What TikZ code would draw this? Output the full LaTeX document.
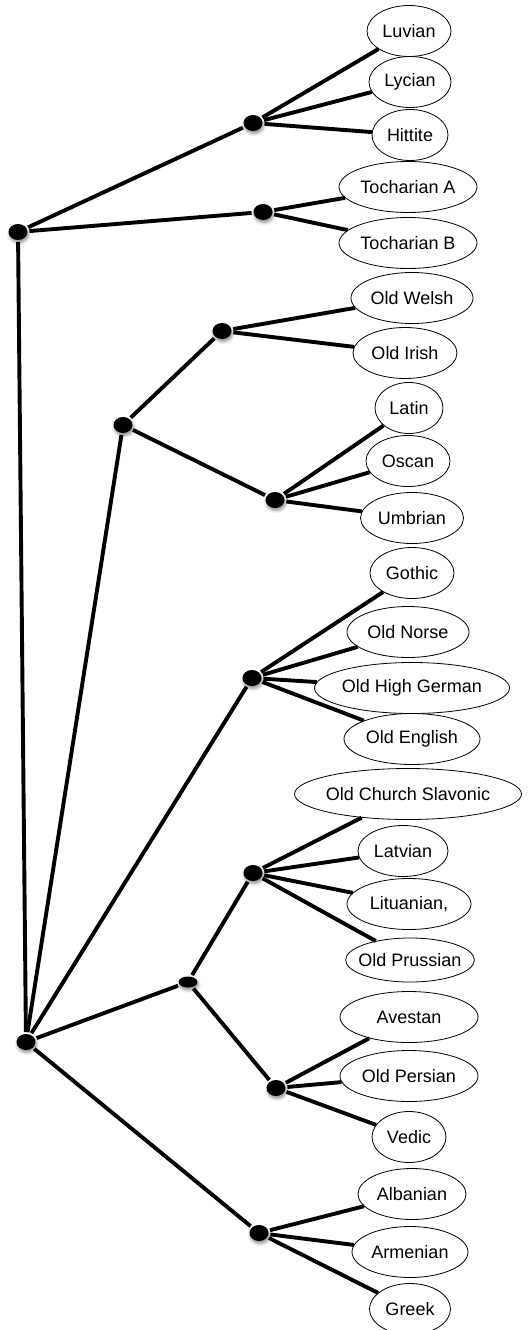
\documentclass[tikz,border=0pt]{standalone}
\usepackage{fontspec}
\setmainfont{Liberation Sans}
\usetikzlibrary{shapes.geometric,shadows.blur}

\begin{document}
\begin{tikzpicture}[x=1pt, y=-1pt, line width=3.9pt]
  \tikzstyle{langbox} = [ellipse, draw, line width=0.8pt, fill=white, inner xsep=-6pt, inner ysep=0pt, minimum height=51pt, font=\fontsize{18}{20}\selectfont]
  \tikzstyle{split} = [ellipse, fill=black, inner sep=0pt, minimum width=19pt, minimum height=16pt, blur shadow={shadow xshift=1pt, shadow yshift=-2.5pt, shadow blur radius=3pt, shadow opacity=45}]

  \useasboundingbox (0,0) rectangle (531,1330);

  % branching points
  \node[split] (top) at (18,232) {};
  \node[split] (anat) at (253,123) {};
  \node[split] (toch) at (263,212) {};
  \node[split] (bottom) at (26,1042) {};
  \node[split] (italoceltic) at (123,425) {};
  \node[split] (celtic) at (222,331) {};
  \node[split] (italic) at (275,500) {};
  \node[split] (germanic) at (252,678) {};
  \node[split, minimum height=11pt] (bsii) at (188,982) {};
  \node[split] (baltoslav) at (253,873) {};
  \node[split] (indoiran) at (276,1088) {};
  \node[split] (greekgrp) at (259,1233) {};

  % languages
  \node[langbox, minimum width=84pt] (luv) at (409,31) {Luvian};
  \node[langbox, minimum width=82pt] (lyc) at (410,82) {Lycian};
  \node[langbox, minimum width=76pt] (hit) at (410,135) {Hittite};
  \node[langbox, minimum width=138pt] (tocha) at (408,187) {Tocharian A};
  \node[langbox, minimum width=138pt] (tochb) at (408,243) {Tocharian B};
  \node[langbox, minimum width=122pt] (welsh) at (412,298) {Old Welsh};
  \node[langbox, minimum width=104pt] (irish) at (405,353) {Old Irish};
  \node[langbox, minimum width=68pt] (latin) at (409,408) {Latin};
  \node[langbox, minimum width=84pt] (oscan) at (408,461) {Oscan};
  \node[langbox, minimum width=103pt] (umbr) at (412,518) {Umbrian};
  \node[langbox, minimum width=84pt] (goth) at (412,573) {Gothic};
  \node[langbox, minimum width=122pt] (norse) at (408,632) {Old Norse};
  \node[langbox, minimum width=195pt] (ohg) at (412,688) {Old High German};
  \node[langbox, minimum width=136pt] (oe) at (412,739) {Old English};
  \node[langbox, minimum width=227pt] (ocs) at (408,794) {Old Church Slavonic};
  \node[langbox, minimum width=90pt] (latv) at (403,851) {Latvian};
  \node[langbox, minimum width=124pt] (lith) at (409,904) {Lituanian,};
  \node[langbox, minimum width=124pt, minimum height=44pt] (prus) at (410,960) {Old Prussian};
  \node[langbox, minimum width=138pt] (aves) at (409,1017) {Avestan};
  \node[langbox, minimum width=138pt] (opers) at (409,1076) {Old Persian};
  \node[langbox, minimum width=74pt] (vedic) at (409,1137) {Vedic};
  \node[langbox, minimum width=108pt] (alb) at (412,1194) {Albanian};
  \node[langbox, minimum width=116pt] (arm) at (410,1252) {Armenian};
  \node[langbox, minimum width=81pt] (greek) at (410,1309) {Greek};

  % main branches
  \draw (top) -- (anat);
  \draw (top) -- (toch);
  \draw (top) -- (bottom);
  \draw (bottom) -- (italoceltic);
  \draw (bottom) -- (germanic);
  \draw (bottom) -- (bsii);
  \draw (bottom) -- (greekgrp);
  \draw (italoceltic) -- (celtic);
  \draw (italoceltic) -- (italic);
  \draw (bsii) -- (baltoslav);
  \draw (bsii) -- (indoiran);

  % leaves
  \draw (anat) -- (luv);
  \draw (anat) -- (lyc);
  \draw (anat) -- (hit);
  \draw (toch) -- (tocha);
  \draw (toch) -- (tochb);
  \draw (celtic) -- (welsh);
  \draw (celtic) -- (irish);
  \draw (italic) -- (latin);
  \draw (italic) -- (oscan);
  \draw (italic) -- (umbr);
  \draw (germanic) -- (goth);
  \draw (germanic) -- (norse);
  \draw (germanic) -- (ohg);
  \draw (germanic) -- (oe);
  \draw (baltoslav) -- (ocs);
  \draw (baltoslav) -- (latv);
  \draw (baltoslav) -- (lith);
  \draw (baltoslav) -- (prus);
  \draw (indoiran) -- (aves);
  \draw (indoiran) -- (opers);
  \draw (indoiran) -- (vedic);
  \draw (greekgrp) -- (alb);
  \draw (greekgrp) -- (arm);
  \draw (greekgrp) -- (greek);
\end{tikzpicture}
\end{document}
